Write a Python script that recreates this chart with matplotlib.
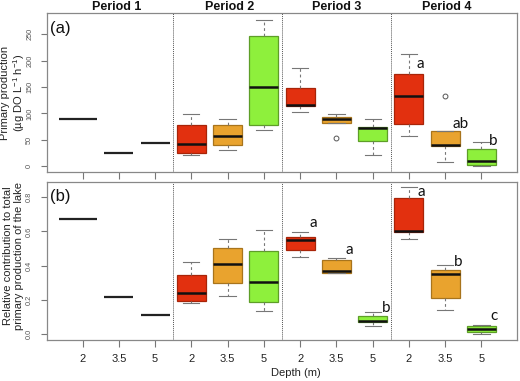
import matplotlib
matplotlib.use("Agg")
import matplotlib.pyplot as plt

plt.rcParams['font.family'] = ['Liberation Sans', 'DejaVu Sans']
plt.rcParams['mathtext.fontset'] = 'custom'
plt.rcParams['mathtext.rm'] = 'Liberation Sans'
plt.rcParams['mathtext.it'] = 'Liberation Sans:italic'

# ---------------- data ----------------
periods = ["Period 1", "Period 2", "Period 3", "Period 4"]
depth_labels = ["2", "3.5", "5"] * 4

# Period 1: single values
pp_p1 = [90, 25, 43]
rc_p1 = [0.67, 0.216, 0.112]

# Periods 2-4 box statistics (order: P2 2,3.5,5 ; P3 ... ; P4 ...)
pp_whislo = [20.4, 29.9, 69.2, 102.7, 81.2, 20.4, 56.5, 8.4, 0.0]
pp_q1     = [24.7, 39.4, 77.4, 113.6, 81.2, 47.0, 79.3, 38.8, 2.7]
pp_med    = [42.6, 56.5, 150.3, 115.5, 88.9, 71.7, 132.6, 40.7, 10.3]
pp_q3     = [77.4, 77.4, 246.8, 147.2, 94.0, 75.0, 174.5, 66.6, 32.3]
pp_whishi = [99.7, 90.2, 277.0, 185.9, 98.4, 88.9, 212.0, 66.6, 45.0]
pp_fliers = [[], [], [], [], [53.3], [], [], [132.0], []]

rc_whislo = [0.181, 0.220, 0.134, 0.450, 0.356, 0.044, 0.558, 0.142, 0.002]
rc_q1     = [0.194, 0.298, 0.190, 0.492, 0.356, 0.072, 0.599, 0.210, 0.009]
rc_med    = [0.241, 0.410, 0.307, 0.551, 0.366, 0.079, 0.605, 0.352, 0.027]
rc_q3     = [0.346, 0.504, 0.488, 0.570, 0.434, 0.103, 0.798, 0.375, 0.044]
rc_whishi = [0.424, 0.556, 0.609, 0.599, 0.444, 0.126, 0.858, 0.405, 0.053]
rc_fliers = [[] for _ in range(9)]

# significance letters: (box position among 12, text, y)
pp_letters = [(10, "a", 193), (11, "ab", 79), (12, "b", 47)]
rc_letters = [(7, "a", 0.652), (8, "a", 0.492), (9, "b", 0.152),
              (10, "a", 0.833), (11, "b", 0.424), (12, "c", 0.103)]

fills = ["#E2300F", "#E9A32E", "#8EF03C"]
edges = ["#A82408", "#A8741C", "#5E9E28"]

W, H = 520, 381
fig = plt.figure(figsize=(W / 100, H / 100), dpi=100)

def ax_rect(l, t, r, b):
    return [l / W, 1 - b / H, (r - l) / W, (b - t) / H]

ax1 = fig.add_axes(ax_rect(47, 13, 517, 172))
ax2 = fig.add_axes(ax_rect(47, 182, 517, 340))

def draw_panel(ax, p1, whislo, q1, med, q3, whishi, fliers, letters, ylim, yticks, ylabels, letter_dx):
    # period 1 lines
    p1_half = [(0.66, 0.41), (0.4, 0.4), (0.4, 0.4)]
    for i, v in enumerate(p1):
        x = i + 1
        ax.hlines(v, x - p1_half[i][0], x + p1_half[i][1], color="#222222", lw=1.6, zorder=3)
    stats = []
    for i in range(9):
        stats.append(dict(whislo=whislo[i], q1=q1[i], med=med[i], q3=q3[i],
                          whishi=whishi[i], fliers=fliers[i]))
    positions = list(range(4, 13))
    for i, (s, p) in enumerate(zip(stats, positions)):
        c = i % 3
        ax.bxp([s], positions=[p], widths=0.8, patch_artist=True, showfliers=True,
               boxprops=dict(facecolor=fills[c], edgecolor=edges[c], lw=0.9),
               medianprops=dict(color="#111111", lw=1.8),
               whiskerprops=dict(color="#777777", lw=0.8, linestyle=(0, (2.5, 2.5))),
               capprops=dict(color="#777777", lw=0.8),
               capwidths=0.45,
               flierprops=dict(marker="o", markersize=3.5, markerfacecolor="none",
                               markeredgecolor="#555555", markeredgewidth=0.7),
               manage_ticks=False)
    for pos, txt, y in letters:
        ax.text(pos + letter_dx, y, txt, fontsize=11, family=["Lato", "DejaVu Sans"],
                ha="left", va="center", color="#111111")
    for xv in (3.5, 6.5, 9.5):
        ax.axvline(xv, color="#555555", lw=0.7, linestyle=(0, (1, 1)), zorder=1)
    ax.set_xlim(0.02, 12.98)
    ax.set_ylim(*ylim)
    ax.set_yticks(yticks)
    ax.set_yticklabels(ylabels, rotation=90, va="center", fontsize=5.3, color="#555555")
    ax.set_xticks(range(1, 13))
    for sp in ax.spines.values():
        sp.set_color("#888888")
        sp.set_linewidth(0.9)
    ax.tick_params(axis="both", colors="#777777", width=0.8)
    ax.tick_params(axis="x", length=5)
    ax.tick_params(axis="y", length=4, pad=6, labelcolor="#555555")

draw_panel(ax1, pp_p1, pp_whislo, pp_q1, pp_med, pp_q3, pp_whishi, pp_fliers,
           pp_letters, (-11, 290),
           [0, 50, 100, 150, 200, 250], ["0", "50", "100", "150", "200", "250"], 0.2)
ax1.set_xticklabels([])
draw_panel(ax2, rc_p1, rc_whislo, rc_q1, rc_med, rc_q3, rc_whishi, rc_fliers,
           rc_letters, (-0.035, 0.889),
           [0.0, 0.2, 0.4, 0.6, 0.8], ["0.0", "0.2", "0.4", "0.6", "0.8"], 0.25)
ax2.set_xticklabels(depth_labels, fontsize=8, color="#222222")
ax2.tick_params(axis="x", pad=5, labelcolor="#222222")

# panel letters
ax1.text(50 / W, 1 - 28 / H, "(a)", transform=fig.transFigure, fontsize=12,
         ha="left", va="center", color="#111111")
ax2.text(50 / W, 1 - 197 / H, "(b)", transform=fig.transFigure, fontsize=12,
         ha="left", va="center", color="#111111")

# period titles
for i, name in enumerate(periods):
    xc = [117, 230, 337, 447][i]
    fig.text(xc / W, 1 - 7 / H, name, fontsize=9, fontweight="bold",
             ha="center", va="center", color="#111111")

fig.text(13.5 / W, 1 - 93 / H, "Primary production\n(µg DO L$^{-1}$ h$^{-1}$)",
         rotation=90, ha="center", va="center", multialignment="center",
         fontsize=8, color="#222222", linespacing=1.15)
fig.text(13.5 / W, 1 - 256 / H, "Relative contribution to total\nprimary production of the lake",
         rotation=90, ha="center", va="center", multialignment="center",
         fontsize=8, color="#222222", linespacing=1.15)
fig.text(296 / W, 1 - 373 / H, "Depth (m)", fontsize=8, ha="center", va="center",
         color="#222222")

fig.savefig("out.png", dpi=100)
